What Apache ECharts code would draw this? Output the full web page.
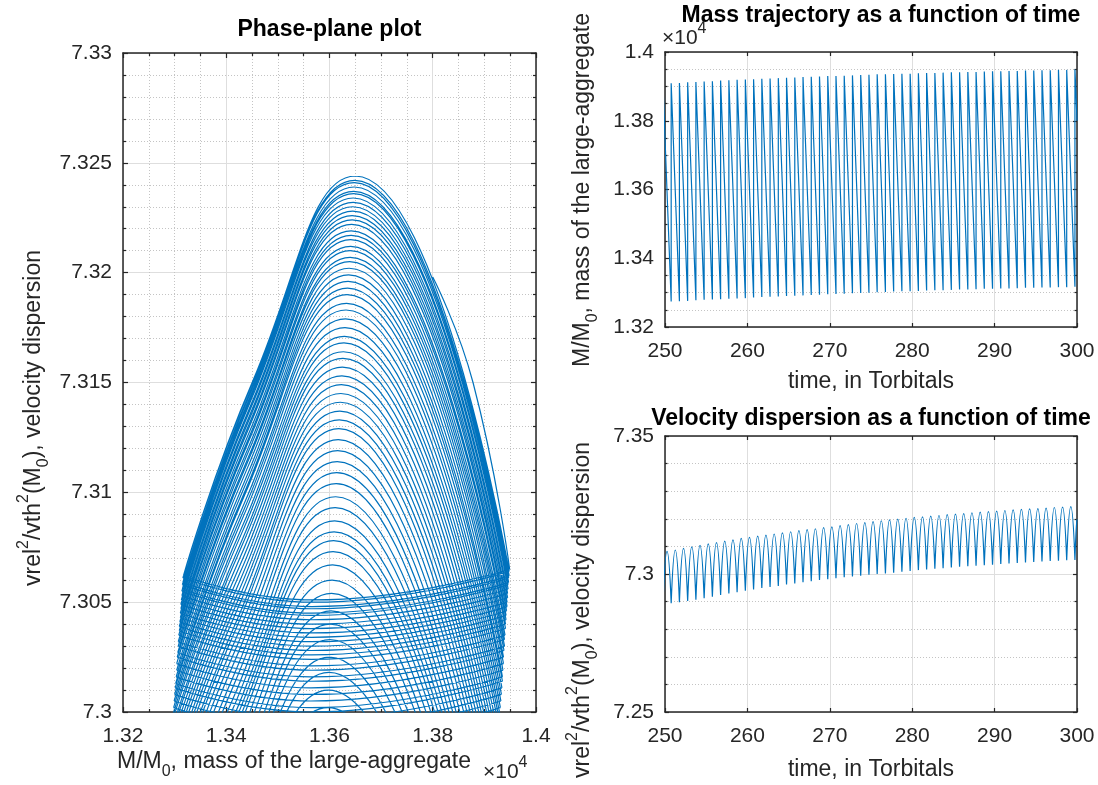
<!DOCTYPE html>
<html>
<head>
<meta charset="utf-8">
<script src="https://cdn.jsdelivr.net/npm/echarts@6/dist/echarts.min.js"></script>
<style>
  html, body { margin: 0; padding: 0; background: #fff; }
  #chart { width: 1098px; height: 785px; }
</style>
</head>
<body>
<div id="chart"></div>
<script>
// one entry per mass jump (time in Torbitals, mass in units of 1e4)
const jumpT = [237.75, 238.75, 239.75, 240.75, 241.75, 242.75, 243.75, 244.75, 245.75, 246.75, 247.75, 248.75, 249.75,
  250.75, 251.75, 252.75, 253.75, 254.75, 255.75, 256.75, 257.75, 258.75, 259.75,
  260.75, 261.75, 262.75, 263.75, 264.75, 265.75, 266.75, 267.75, 268.75, 269.75,
  270.75, 271.75, 272.75, 273.75, 274.75, 275.75, 276.75, 277.75, 278.75, 279.75,
  280.75, 281.75, 282.75, 283.75, 284.75, 285.75, 286.75, 287.75, 288.75, 289.75,
  290.75, 291.75, 292.75, 293.75, 294.75, 295.75, 296.75, 297.75, 298.75, 299.75];
const massBefore = [1.3258, 1.3259, 1.3260, 1.3262, 1.3263, 1.3264, 1.3265, 1.3266, 1.3268, 1.3269, 1.3270, 1.3271, 1.3272,
  1.3274, 1.3275, 1.3276, 1.3278, 1.3279, 1.3280, 1.3281, 1.3282, 1.3283, 1.3284,
  1.3286, 1.3287, 1.3288, 1.3289, 1.3290, 1.3291, 1.3292, 1.3293, 1.3294, 1.3295,
  1.3296, 1.3297, 1.3298, 1.3299, 1.3300, 1.3301, 1.3302, 1.3303, 1.3304, 1.3304,
  1.3305, 1.3306, 1.3307, 1.3307, 1.3308, 1.3309, 1.3309, 1.3310, 1.3311, 1.3311,
  1.3312, 1.3312, 1.3313, 1.3314, 1.3314, 1.3315, 1.3315, 1.3316, 1.3316, 1.3317];
const massAfter = [1.3894, 1.3895, 1.3896, 1.3897, 1.3898, 1.3900, 1.3901, 1.3902, 1.3903, 1.3904, 1.3905, 1.3906, 1.3908,
  1.3909, 1.3910, 1.3912, 1.3913, 1.3914, 1.3915, 1.3917, 1.3918, 1.3919, 1.3920,
  1.3921, 1.3922, 1.3923, 1.3924, 1.3925, 1.3926, 1.3927, 1.3928, 1.3929, 1.3930,
  1.3930, 1.3931, 1.3932, 1.3933, 1.3934, 1.3935, 1.3935, 1.3936, 1.3937, 1.3937,
  1.3938, 1.3939, 1.3939, 1.3940, 1.3941, 1.3941, 1.3942, 1.3942, 1.3943, 1.3944,
  1.3944, 1.3945, 1.3945, 1.3946, 1.3946, 1.3947, 1.3947, 1.3948, 1.3948, 1.3949];
// velocity at the jump: lowest point, value just before and just after
const velDip = [7.2809, 7.2817, 7.2825, 7.2832, 7.2840, 7.2847, 7.2853, 7.2861, 7.2867, 7.2874, 7.2880, 7.2885, 7.2889,
  7.2894, 7.2898, 7.2902, 7.2907, 7.2912, 7.2918, 7.2924, 7.2929, 7.2934, 7.2939,
  7.2944, 7.2949, 7.2953, 7.2957, 7.2962, 7.2966, 7.2970, 7.2974, 7.2978, 7.2981,
  7.2985, 7.2988, 7.2991, 7.2994, 7.2997, 7.3000, 7.3002, 7.3005, 7.3008, 7.3011,
  7.3014, 7.3016, 7.3019, 7.3021, 7.3024, 7.3026, 7.3028, 7.3030, 7.3032, 7.3034,
  7.3036, 7.3038, 7.3040, 7.3042, 7.3044, 7.3045, 7.3047, 7.3048, 7.3050, 7.3051];
const velBefore = [7.2820, 7.2828, 7.2836, 7.2843, 7.2851, 7.2858, 7.2864, 7.2872, 7.2878, 7.2885, 7.2891, 7.2896, 7.2900,
  7.2905, 7.2909, 7.2913, 7.2918, 7.2923, 7.2929, 7.2935, 7.2940, 7.2945, 7.2950,
  7.2955, 7.2960, 7.2964, 7.2968, 7.2973, 7.2977, 7.2981, 7.2985, 7.2989, 7.2992,
  7.2996, 7.2999, 7.3002, 7.3005, 7.3008, 7.3011, 7.3013, 7.3016, 7.3019, 7.3022,
  7.3025, 7.3027, 7.3030, 7.3032, 7.3035, 7.3037, 7.3039, 7.3041, 7.3043, 7.3045,
  7.3047, 7.3049, 7.3051, 7.3053, 7.3055, 7.3056, 7.3058, 7.3059, 7.3061, 7.3062];
const velAfter = [7.2823, 7.2831, 7.2839, 7.2846, 7.2854, 7.2861, 7.2867, 7.2875, 7.2881, 7.2888, 7.2894, 7.2899, 7.2903,
  7.2908, 7.2912, 7.2916, 7.2921, 7.2926, 7.2932, 7.2938, 7.2943, 7.2948, 7.2953,
  7.2958, 7.2963, 7.2967, 7.2971, 7.2976, 7.2980, 7.2984, 7.2988, 7.2992, 7.2995,
  7.2999, 7.3002, 7.3005, 7.3008, 7.3011, 7.3014, 7.3016, 7.3019, 7.3022, 7.3025,
  7.3028, 7.3030, 7.3033, 7.3035, 7.3038, 7.3040, 7.3042, 7.3044, 7.3046, 7.3048,
  7.3050, 7.3052, 7.3054, 7.3056, 7.3058, 7.3059, 7.3061, 7.3062, 7.3064, 7.3065];
// mass where the velocity dip of each jump is reached
const dipMass = [1.3558, 1.3558, 1.3559, 1.3559, 1.3560, 1.3560, 1.3561, 1.3561, 1.3562, 1.3562, 1.3562, 1.3563, 1.3563,
  1.3563, 1.3563, 1.3563, 1.3563, 1.3563, 1.3563, 1.3563, 1.3563, 1.3563, 1.3563,
  1.3564, 1.3564, 1.3564, 1.3564, 1.3564, 1.3564, 1.3564, 1.3564, 1.3564, 1.3564,
  1.3564, 1.3564, 1.3564, 1.3564, 1.3564, 1.3564, 1.3564, 1.3564, 1.3564, 1.3564,
  1.3565, 1.3565, 1.3565, 1.3565, 1.3565, 1.3565, 1.3565, 1.3565, 1.3565, 1.3565,
  1.3565, 1.3565, 1.3565, 1.3565, 1.3565, 1.3566, 1.3566, 1.3566, 1.3566, 1.3566];
// one entry per velocity hump between two jumps
const peakT = [238.25, 239.25, 240.25, 241.25, 242.25, 243.25, 244.25, 245.25, 246.25, 247.25, 248.25, 249.25, 250.25,
  251.25, 252.25, 253.25, 254.25, 255.25, 256.25, 257.25, 258.25, 259.25, 260.25,
  261.25, 262.25, 263.25, 264.25, 265.25, 266.25, 267.25, 268.25, 269.25, 270.25,
  271.25, 272.25, 273.25, 274.25, 275.25, 276.25, 277.25, 278.25, 279.25, 280.25,
  281.25, 282.25, 283.25, 284.25, 285.25, 286.25, 287.25, 288.25, 289.25, 290.25,
  291.25, 292.25, 293.25, 294.25, 295.25, 296.25, 297.25, 298.25, 299.25];
const velPeak = [7.3002, 7.3010, 7.3018, 7.3025, 7.3033, 7.3040, 7.3046, 7.3054, 7.3060, 7.3067, 7.3073, 7.3078, 7.3082,
  7.3087, 7.3093, 7.3098, 7.3104, 7.3109, 7.3114, 7.3119, 7.3124, 7.3129, 7.3133,
  7.3137, 7.3141, 7.3145, 7.3149, 7.3153, 7.3157, 7.3161, 7.3164, 7.3168, 7.3171,
  7.3175, 7.3179, 7.3183, 7.3186, 7.3190, 7.3193, 7.3196, 7.3199, 7.3202, 7.3205,
  7.3207, 7.3210, 7.3212, 7.3215, 7.3217, 7.3219, 7.3222, 7.3224, 7.3226, 7.3228,
  7.3230, 7.3232, 7.3234, 7.3236, 7.3237, 7.3239, 7.3241, 7.3242, 7.3244];
const peakMass = [1.3597, 1.3598, 1.3599, 1.3600, 1.3601, 1.3602, 1.3603, 1.3604, 1.3605, 1.3606, 1.3607, 1.3608, 1.3609,
  1.3610, 1.3611, 1.3612, 1.3613, 1.3614, 1.3615, 1.3616, 1.3617, 1.3618, 1.3619,
  1.3620, 1.3621, 1.3622, 1.3623, 1.3624, 1.3625, 1.3626, 1.3627, 1.3628, 1.3629,
  1.3630, 1.3631, 1.3632, 1.3633, 1.3634, 1.3635, 1.3636, 1.3637, 1.3638, 1.3639,
  1.3640, 1.3640, 1.3641, 1.3641, 1.3642, 1.3642, 1.3643, 1.3644, 1.3644, 1.3645,
  1.3645, 1.3646, 1.3646, 1.3647, 1.3647, 1.3648, 1.3648, 1.3649, 1.3650];
// a point on the low-mass flank of each hump (phase plane)
const shoulderMass = [1.3396, 1.3397, 1.3398, 1.3399, 1.3400, 1.3401, 1.3402, 1.3404, 1.3405, 1.3406, 1.3407, 1.3408, 1.3410,
  1.3411, 1.3412, 1.3413, 1.3414, 1.3415, 1.3416, 1.3417, 1.3418, 1.3419, 1.3421,
  1.3422, 1.3423, 1.3424, 1.3425, 1.3426, 1.3427, 1.3428, 1.3429, 1.3430, 1.3431,
  1.3432, 1.3433, 1.3434, 1.3435, 1.3436, 1.3437, 1.3438, 1.3439, 1.3439, 1.3440,
  1.3441, 1.3442, 1.3442, 1.3443, 1.3444, 1.3444, 1.3445, 1.3446, 1.3446, 1.3447,
  1.3447, 1.3448, 1.3448, 1.3449, 1.3449, 1.3450, 1.3450, 1.3451, 1.3452];
const shoulderVel = [7.2913, 7.2921, 7.2929, 7.2936, 7.2944, 7.2950, 7.2957, 7.2964, 7.2971, 7.2977, 7.2983, 7.2987, 7.2992,
  7.2996, 7.3001, 7.3006, 7.3012, 7.3017, 7.3023, 7.3028, 7.3033, 7.3038, 7.3042,
  7.3047, 7.3051, 7.3055, 7.3059, 7.3063, 7.3067, 7.3071, 7.3075, 7.3078, 7.3082,
  7.3085, 7.3089, 7.3092, 7.3095, 7.3099, 7.3101, 7.3104, 7.3107, 7.3110, 7.3113,
  7.3115, 7.3118, 7.3120, 7.3123, 7.3125, 7.3127, 7.3130, 7.3132, 7.3134, 7.3136,
  7.3138, 7.3140, 7.3142, 7.3144, 7.3145, 7.3147, 7.3148, 7.3150, 7.3151];
// the unfinished hump at the end of the run
const tailT = [299.88, 300];
const tailMass = [1.3878, 1.3800];
const tailVel = [7.3150, 7.3198];

const massTicks = [1.32, 1.40, 0.02];
const velTicksPhase = [7.30, 7.33, 0.005];
const velTicksTime = [7.25, 7.35, 0.05];
const timeTicks = [250, 300, 10];

const BLUE = '#0072bd';
const INK = '#262626';
const FONT = '"Liberation Sans", Arial, Helvetica, sans-serif';
const GAP = ['-', '-'];

function massTrace() {
  const pts = [];
  for (let k = 0; k < jumpT.length; k++) {
    pts.push([jumpT[k], massBefore[k]], [jumpT[k], massAfter[k]]);
  }
  tailT.forEach((t, i) => pts.push([t, tailMass[i]]));
  return pts;
}

function velTrace() {
  const pts = [];
  for (let k = 0; k < peakT.length; k++) {
    pts.push([jumpT[k], velDip[k]], [peakT[k], velPeak[k]], [jumpT[k + 1], velDip[k + 1]], GAP);
  }
  const last = jumpT.length - 1;
  pts.push([jumpT[last], velDip[last]]);
  tailT.forEach((t, i) => pts.push([t, tailVel[i]]));
  return pts;
}

function phaseTrace() {
  const pts = [];
  for (let k = 0; k < jumpT.length; k++) {
    pts.push([massBefore[k], velBefore[k]], [dipMass[k], velDip[k]], [massAfter[k], velAfter[k]], GAP);
    if (k < peakT.length) {
      pts.push(
        [massAfter[k], velAfter[k]],
        [peakMass[k], velPeak[k]],
        [shoulderMass[k], shoulderVel[k]],
        [massBefore[k + 1], velBefore[k + 1]],
        GAP
      );
    }
  }
  const last = jumpT.length - 1;
  pts.push([massAfter[last], velAfter[last]]);
  tailMass.forEach((m, i) => pts.push([m, tailVel[i]]));
  return pts;
}

function axis(grid, position, ticks, minorSplit, tickLen, labelled) {
  const horizontal = position === 'bottom' || position === 'top';
  return {
    type: 'value',
    gridIndex: grid,
    position: position,
    min: ticks[0],
    max: ticks[1],
    interval: ticks[2],
    axisLine: { show: true, onZero: false, lineStyle: { color: INK, width: 1.5 } },
    axisTick: { show: true, inside: true, length: tickLen[0], lineStyle: { color: INK, width: 1.2 } },
    minorTick: {
      show: minorSplit > 0,
      splitNumber: minorSplit || 1,
      length: tickLen[1],
      lineStyle: { color: INK, width: 1.2 },
    },
    axisLabel: {
      show: labelled,
      color: INK,
      fontSize: 21,
      fontFamily: FONT,
      margin: horizontal ? 14 : 11,
    },
    splitLine: { show: labelled, lineStyle: { color: '#dedede', width: 1 } },
    minorSplitLine: { show: labelled && minorSplit > 0, lineStyle: { color: '#c4c4c4', width: 1, type: [1, 2] } },
  };
}

function rich(size) {
  const main = { font: size + 'px ' + FONT, fill: INK, lineHeight: 36 };
  const small = { font: '16px ' + FONT, fill: INK, lineHeight: 16 };
  return {
    m: main,
    s: Object.assign({}, small, { verticalAlign: 'bottom' }),
    p: Object.assign({}, small, { verticalAlign: 'top' }),
  };
}

function text(x, y, content, opts) {
  return Object.assign({
    type: 'text',
    x: x,
    y: y,
    silent: true,
    style: {
      text: content,
      rich: rich(23),
      align: opts.align || 'center',
      textAlign: opts.align || 'center',
      verticalAlign: 'middle',
      textVerticalAlign: 'middle',
    },
  }, opts.rotate ? { rotation: Math.PI / 2 } : {});
}

function title(x, y, content) {
  return {
    type: 'text',
    x: x,
    y: y,
    silent: true,
    style: {
      text: content,
      font: 'bold 23px ' + FONT,
      fill: '#000',
      align: 'center',
      textAlign: 'center',
      verticalAlign: 'middle',
      textVerticalAlign: 'middle',
    },
  };
}

function exponent(x, y) {
  return {
    type: 'text',
    x: x,
    y: y,
    silent: true,
    style: {
      text: '{e|\u00d710}{q|4}',
      rich: {
        e: { font: '21px ' + FONT, fill: INK, lineHeight: 34 },
        q: { font: '16px ' + FONT, fill: INK, lineHeight: 16, verticalAlign: 'top' },
      },
      align: 'left',
      textAlign: 'left',
      verticalAlign: 'middle',
      textVerticalAlign: 'middle',
    },
  };
}

const massLabel = '{m|M/M}{s|0}{m|, mass of the large-aggregate}';
const velLabel = '{m|vrel}{p|2}{m|/vth}{p|2}{m|(M}{s|0}{m|), velocity dispersion}';

const chart = echarts.init(document.getElementById('chart'), null, { renderer: 'canvas' });

chart.setOption({
  animation: false,
  backgroundColor: '#fff',
  grid: [
    { left: 123, top: 53, width: 413, height: 659, outerBoundsMode: 'none' },
    { left: 665, top: 52, width: 412, height: 275, outerBoundsMode: 'none' },
    { left: 665, top: 436, width: 412, height: 276, outerBoundsMode: 'none' },
  ],
  xAxis: [
    axis(0, 'bottom', massTicks, 4, [5, 3], true),
    axis(0, 'top', massTicks, 4, [5, 3], false),
    axis(1, 'bottom', timeTicks, 0, [4, 2.5], true),
    axis(1, 'top', timeTicks, 0, [4, 2.5], false),
    axis(2, 'bottom', timeTicks, 0, [4, 2.5], true),
    axis(2, 'top', timeTicks, 0, [4, 2.5], false),
  ],
  yAxis: [
    axis(0, 'left', velTicksPhase, 5, [5, 3], true),
    axis(0, 'right', velTicksPhase, 5, [5, 3], false),
    axis(1, 'left', massTicks, 4, [4, 2.5], true),
    axis(1, 'right', massTicks, 4, [4, 2.5], false),
    axis(2, 'left', velTicksTime, 5, [4, 2.5], true),
    axis(2, 'right', velTicksTime, 5, [4, 2.5], false),
  ],
  series: [
    {
      name: 'phase',
      type: 'line',
      xAxisIndex: 0,
      yAxisIndex: 0,
      data: phaseTrace(),
      smooth: 0.5,
      symbol: 'none',
      silent: true,
      lineStyle: { color: BLUE, width: 1.2 },
    },
    {
      name: 'mass',
      type: 'line',
      xAxisIndex: 2,
      yAxisIndex: 2,
      data: massTrace(),
      symbol: 'none',
      silent: true,
      lineStyle: { color: BLUE, width: 1.2 },
    },
    {
      name: 'velocity',
      type: 'line',
      xAxisIndex: 4,
      yAxisIndex: 4,
      data: velTrace(),
      smooth: 0.5,
      symbol: 'none',
      silent: true,
      lineStyle: { color: BLUE, width: 1.2 },
    },
  ],
  graphic: [
    title(329.5, 30, 'Phase-plane plot'),
    title(881, 16, 'Mass trajectory as a function of time'),
    title(871, 419, 'Velocity dispersion as a function of time'),
    text(117, 762, massLabel, { align: 'left' }),
    exponent(483, 772),
    exponent(662, 38),
    text(871, 382, '{m|time, in Torbitals}', {}),
    text(871, 770, '{m|time, in Torbitals}', {}),
    text(34, 418, velLabel, { rotate: true }),
    text(583, 190, massLabel, { rotate: true }),
    text(583, 610, velLabel, { rotate: true }),
  ],
});
</script>
</body>
</html>
